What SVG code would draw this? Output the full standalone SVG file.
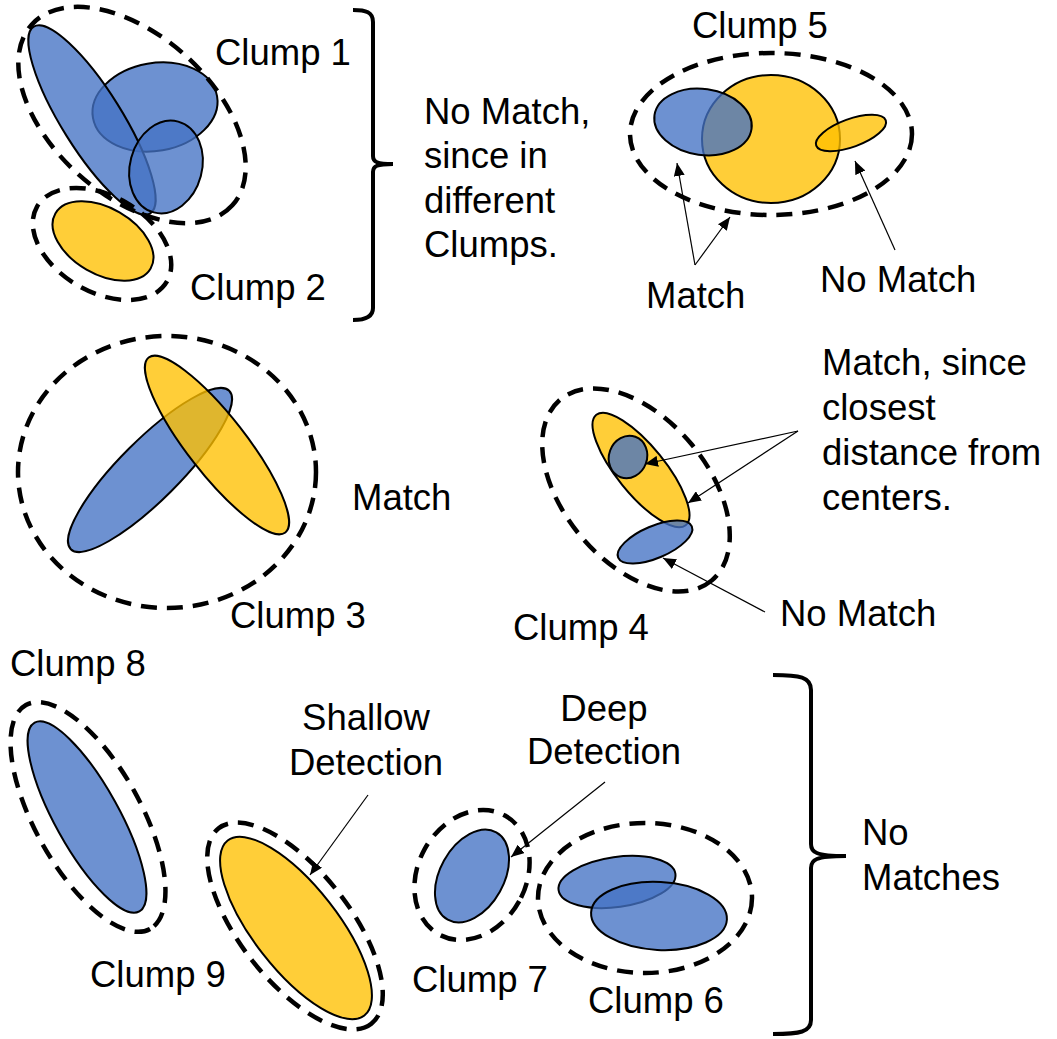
<svg xmlns="http://www.w3.org/2000/svg" width="1057" height="1039" viewBox="0 0 1057 1039">
<style>
.blue{fill:#4472C4;fill-opacity:0.78;stroke:#000;stroke-width:2}
.yellow{fill:#FFC000;fill-opacity:0.78;stroke:#000;stroke-width:2}
.clump{fill:none;stroke:#000;stroke-width:4.5;stroke-dasharray:16 10}
.conn{fill:none;stroke:#000;stroke-width:1.2;marker-end:url(#ah)}
.brace{fill:none;stroke:#000;stroke-width:4;stroke-linecap:butt}
text{font-family:"Liberation Sans",Arial,Helvetica,sans-serif;font-size:36.5px;fill:#000}
</style>
<defs>
<marker id="ah" viewBox="0 0 13 11" refX="13" refY="5.5" markerWidth="13" markerHeight="11" markerUnits="userSpaceOnUse" orient="auto">
<path d="M0,0 L13,5.5 L0,11 z" fill="#000"/>
</marker>
</defs>
<rect width="1057" height="1039" fill="#fff"/>

<g id="clump1">
<ellipse class="blue" cx="155" cy="107" rx="63" ry="44" transform="rotate(-10 155 107)"/>
<ellipse class="blue" cx="92" cy="120" rx="110" ry="30" transform="rotate(58 92 120)"/>
<ellipse class="blue" cx="166" cy="167" rx="36" ry="47" transform="rotate(15 166 167)"/>
<ellipse class="clump" cx="132" cy="115" rx="135" ry="80" transform="rotate(42 132 115)"/>
<text x="215" y="65">Clump 1</text>
</g>

<g id="clump2">
<ellipse class="yellow" cx="103" cy="241" rx="55" ry="33" transform="rotate(30 103 241)"/>
<ellipse class="clump" cx="102" cy="244" rx="75" ry="48" transform="rotate(30 102 244)"/>
<text x="190" y="300">Clump 2</text>
</g>

<g id="brace-top">
<path class="brace" d="M353,10 C366,10 373,12 373,22 L373,156 C373,162 377,164 393,164 C377,164 373,166 373,172 L373,308 C373,316 366,320 353,320"/>
<text x="424" y="124">No Match,</text>
<text x="424" y="168">since in</text>
<text x="424" y="213">different</text>
<text x="424" y="257">Clumps.</text>
</g>

<g id="clump5">
<ellipse class="yellow" cx="771" cy="139" rx="69" ry="64"/>
<ellipse class="blue" cx="703" cy="122" rx="49" ry="33" transform="rotate(8 703 122)"/>
<ellipse class="yellow" cx="851" cy="133" rx="37" ry="14" transform="rotate(-20 851 133)"/>
<ellipse class="clump" cx="771" cy="134" rx="141" ry="81"/>
<text x="692" y="38">Clump 5</text>
<text x="646" y="308">Match</text>
<text x="820" y="292">No Match</text>
</g>

<g id="clump3">
<ellipse class="blue" cx="150" cy="470" rx="112" ry="30" transform="rotate(-45 150 470)"/>
<ellipse class="yellow" cx="217" cy="445" rx="111" ry="29" transform="rotate(52 217 445)"/>
<ellipse class="clump" cx="167" cy="472" rx="149" ry="136"/>
<text x="352" y="510">Match</text>
<text x="230" y="628">Clump 3</text>
</g>

<g id="clump4">
<ellipse class="yellow" cx="641" cy="470" rx="71" ry="24" transform="rotate(51 641 470)"/>
<ellipse class="blue" cx="628" cy="457" rx="19" ry="21.5" transform="rotate(20 628 457)"/>
<ellipse class="blue" cx="655" cy="542" rx="40" ry="16" transform="rotate(-23 655 542)"/>
<ellipse class="clump" cx="636" cy="490" rx="118" ry="72" transform="rotate(50 636 490)"/>
<text x="822" y="375">Match, since</text>
<text x="822" y="420">closest</text>
<text x="822" y="465">distance from</text>
<text x="822" y="510">centers.</text>
<text x="780" y="626">No Match</text>
<text x="513" y="640">Clump 4</text>
</g>

<g id="clump8">
<ellipse class="blue" cx="87" cy="817" rx="108" ry="32" transform="rotate(61 87 817)"/>
<ellipse class="clump" cx="88" cy="817" rx="128" ry="53" transform="rotate(61 88 817)"/>
<text x="10" y="676">Clump 8</text>
</g>

<g id="clump9">
<ellipse class="yellow" cx="296" cy="928" rx="111" ry="42" transform="rotate(52 296 928)"/>
<ellipse class="clump" cx="295" cy="926" rx="124" ry="55" transform="rotate(52 295 926)"/>
<text x="90" y="987">Clump 9</text>
<text x="366" y="730" text-anchor="middle">Shallow</text>
<text x="366" y="775" text-anchor="middle">Detection</text>
</g>

<g id="clump7">
<ellipse class="blue" cx="472" cy="876" rx="32" ry="50" transform="rotate(29 472 876)"/>
<ellipse class="clump" cx="472" cy="875" rx="54" ry="68" transform="rotate(29 472 875)"/>
<text x="412" y="992">Clump 7</text>
<text x="604" y="721" text-anchor="middle">Deep</text>
<text x="604" y="764" text-anchor="middle">Detection</text>
</g>

<g id="clump6">
<ellipse class="blue" cx="617" cy="882" rx="59" ry="25" transform="rotate(-8 617 882)"/>
<ellipse class="blue" cx="659" cy="916" rx="68" ry="34" transform="rotate(3 659 916)"/>
<ellipse class="clump" cx="645" cy="898" rx="107" ry="75"/>
<text x="588" y="1013">Clump 6</text>
</g>

<g id="brace-bottom">
<path class="brace" d="M773,675 C800,675 811,677 811,690 L811,844 C811,852 815,856 846,856 C815,856 811,860 811,868 L811,1020 C811,1032 800,1034 773,1034"/>
<text x="862" y="845">No</text>
<text x="862" y="890">Matches</text>
</g>

<g id="connectors">
<line class="conn" x1="695" y1="265" x2="677" y2="163"/>
<line class="conn" x1="695" y1="265" x2="730" y2="217"/>
<line class="conn" x1="895" y1="250" x2="855" y2="161"/>
<line class="conn" x1="798" y1="431" x2="645" y2="464"/>
<line class="conn" x1="798" y1="431" x2="688" y2="503"/>
<line class="conn" x1="765" y1="612" x2="663" y2="558"/>
<line class="conn" x1="368" y1="795" x2="310" y2="875"/>
<line class="conn" x1="605" y1="782" x2="511" y2="857"/>
</g>
</svg>
